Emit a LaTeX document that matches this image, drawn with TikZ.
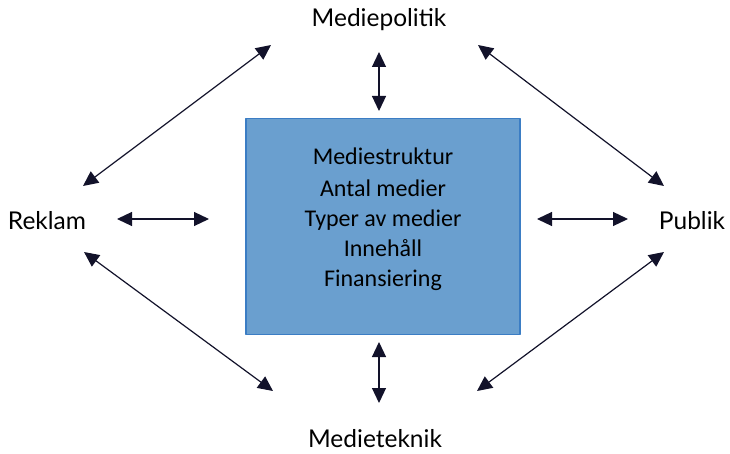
\documentclass[tikz,border=0pt]{standalone}
\usepackage{fontspec}
\setmainfont{Lato}
\newfontfamily\boxfont{Carlito}
\usetikzlibrary{arrows.meta}
\definecolor{boxfill}{HTML}{6A9FCF}
\definecolor{boxline}{HTML}{3B7DC4}
\definecolor{arrowcol}{HTML}{12122A}
\begin{document}
\begin{tikzpicture}[x=1pt, y=-1pt, line join=round, >={Triangle[length=15pt,width=14pt]},
  label/.style={font=\fontsize{24.5}{28}\selectfont, inner sep=0pt},
  link/.style={<->, line width=1.2pt, draw=arrowcol, color=arrowcol}]
			\useasboundingbox (0,0) rectangle (730,454);
			\node[draw=boxline, line width=1.5pt, fill=boxfill, minimum width=274pt, minimum height=216pt, inner sep=0pt] (struktur) at (383,226.5) {};
			\node[font=\boxfont\fontsize{24}{30}\selectfont, align=center] (innehall) at (383,219) {Mediestruktur\\[2pt]Antal medier\\Typer av medier\\Innehåll\\Finansiering};
			\node[label] (politik) at (379,20) {Mediepolitik};
			\node[label] (reklam) at (47,221) {Reklam};
			\node[label] (publik) at (692,221) {Publik};
			\node[label] (teknik) at (375,439) {Medieteknik};
			% end points of the arrows
			\coordinate (a1) at (83,186); \coordinate (b1) at (271,45);
			\coordinate (a2) at (478,45); \coordinate (b2) at (664,186);
			\coordinate (a3) at (84,252); \coordinate (b3) at (273,391);
			\coordinate (a4) at (664,252); \coordinate (b4) at (477,391);
			\coordinate (a5) at (117,219); \coordinate (b5) at (209,219);
			\coordinate (a6) at (537,219); \coordinate (b6) at (628,219);
			\coordinate (a7) at (379,52); \coordinate (b7) at (379,111);
			\coordinate (a8) at (379,342); \coordinate (b8) at (379,403);
			\foreach \i in {1,...,8}\draw[link] (a\i)--(b\i);
		\end{tikzpicture}
\end{document}
